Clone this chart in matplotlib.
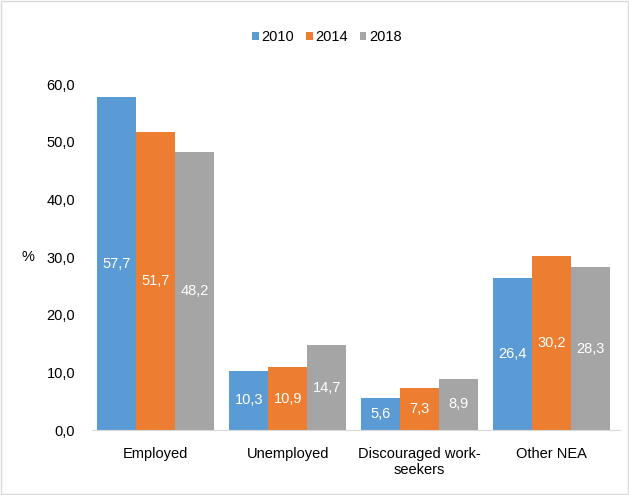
import matplotlib
matplotlib.use("Agg")
import matplotlib.pyplot as plt
import numpy as np
from matplotlib.patches import Rectangle

categories = ["Employed", "Unemployed", "Discouraged work-\nseekers", "Other NEA"]
years = ["2010", "2014", "2018"]
v2010 = [57.7, 10.3, 5.6, 26.4]
v2014 = [51.7, 10.9, 7.3, 30.2]
v2018 = [48.2, 14.7, 8.9, 28.3]
colors = ["#5B9BD5", "#ED7D31", "#A5A5A5"]

plt.rcParams['font.family'] = ['Liberation Sans', 'DejaVu Sans']

fig = plt.figure(figsize=(6.29, 4.95), dpi=100)
fig.patches.append(Rectangle((0.002, 0.002), 0.996, 0.996, transform=fig.transFigure,
                             fill=False, edgecolor="#D9D9D9", linewidth=1))
ax = fig.add_axes([0.146, 0.131, 0.840, 0.699])

x = np.arange(len(categories))
w = 0.295
series = [v2010, v2014, v2018]
for i, (vals, c, yr) in enumerate(zip(series, colors, years)):
    bars = ax.bar(x + (i - 1) * w, vals, width=w, color=c, label=yr)
    for b, v in zip(bars, vals):
        ax.text(b.get_x() + b.get_width() / 2, v / 2, f"{v:.1f}".replace(".", ","),
                ha="center", va="center", color="white", fontsize=10.5)

ax.set_xlim(-0.485, 3.52)
ax.set_ylim(0, 60)
ax.set_yticks(np.arange(0, 61, 10))
ax.set_yticklabels([f"{t:.1f}".replace(".", ",") for t in np.arange(0, 61, 10)], fontsize=10.5)
ax.set_xticks(x)
ax.set_xticklabels(categories, fontsize=10.5)
ax.tick_params(axis="both", length=0)
ax.tick_params(axis="x", pad=12)
ax.tick_params(axis="y", pad=12)
for s in ["top", "right", "left"]:
    ax.spines[s].set_visible(False)
ax.spines["bottom"].set_color("#D9D9D9")
ax.text(-0.12, 0.5, "%", transform=ax.transAxes, ha="center", va="center", fontsize=10.5)

fig.legend(loc="center", bbox_to_anchor=(0.52, 0.925), ncol=3, frameon=False,
           fontsize=10.5, handlelength=0.45, handleheight=0.45, handletextpad=0.2,
           columnspacing=0.8)

fig.savefig("out.png", dpi=100)
